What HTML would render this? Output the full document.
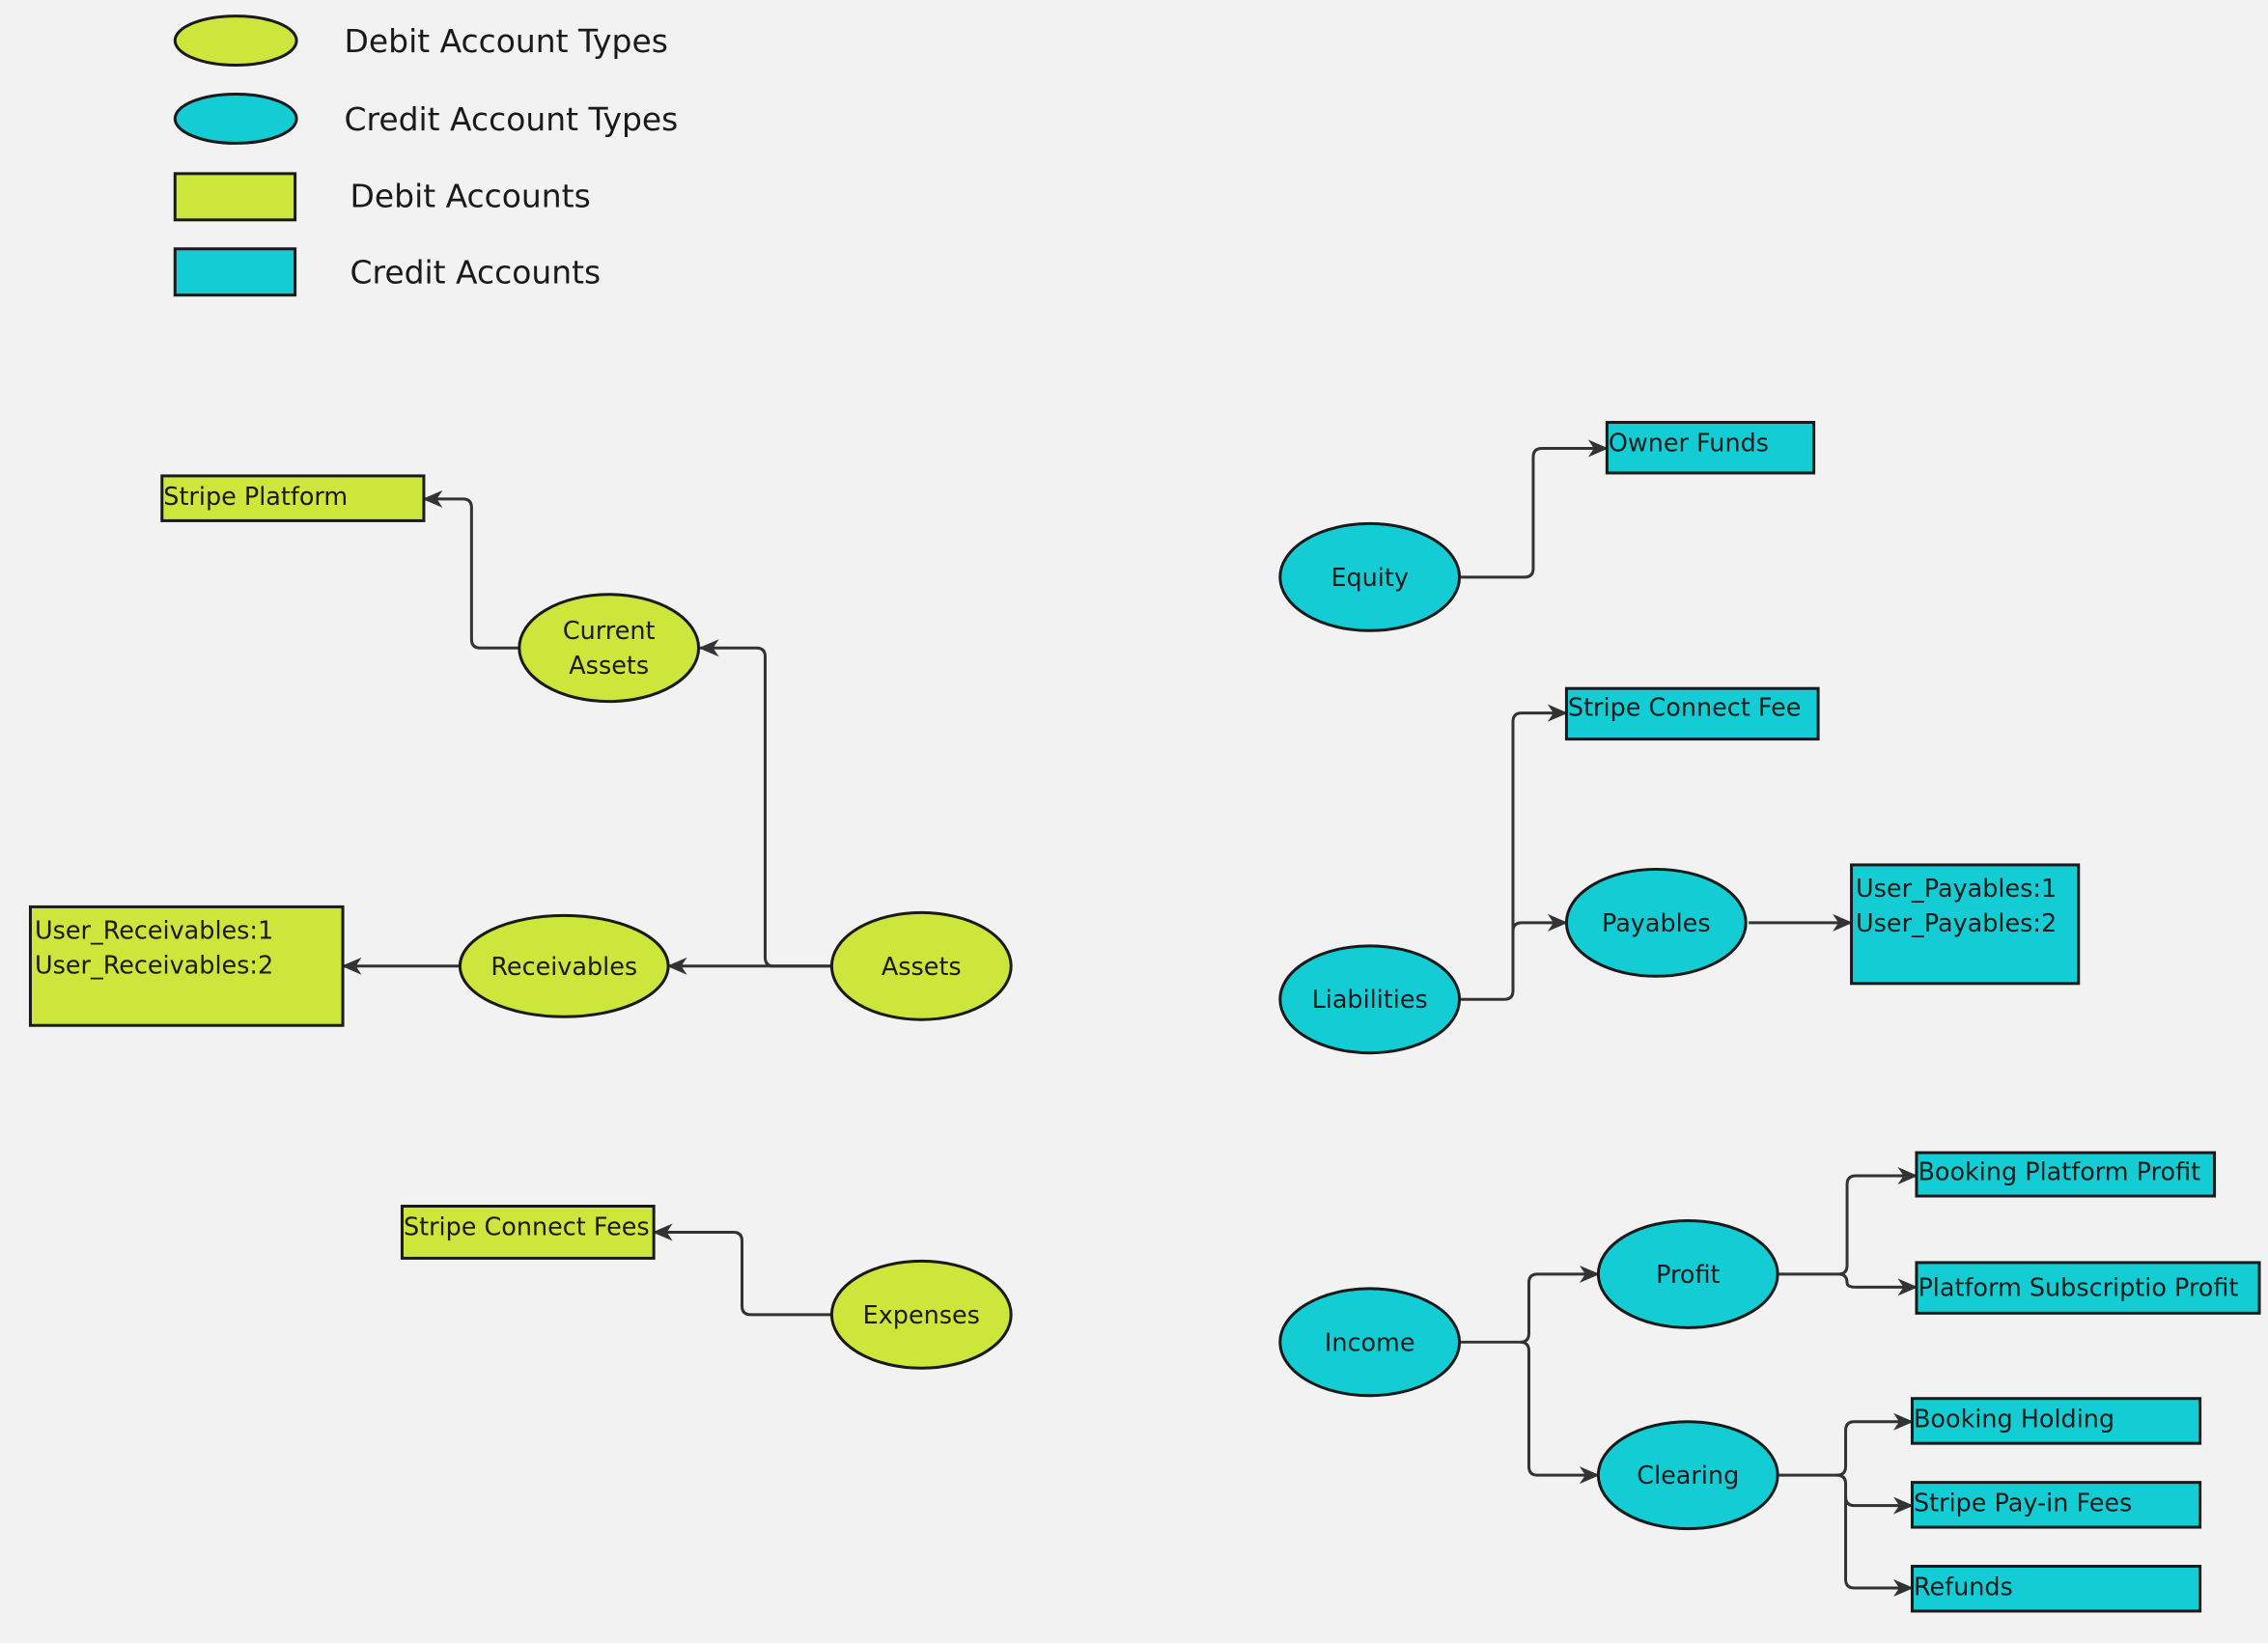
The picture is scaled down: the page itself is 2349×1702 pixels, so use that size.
<!DOCTYPE html>
<html><head><style>html,body{margin:0;padding:0;background:#f2f2f2}svg{display:block}text{font-family:"DejaVu Sans","Liberation Sans",sans-serif;fill:#1a1a1a}</style></head>
<body>
<svg width="2349" height="1702" viewBox="0 0 1568 1136" xmlns="http://www.w3.org/2000/svg">
<defs><marker id="a" markerWidth="14" markerHeight="14" refX="13" refY="7" orient="auto" markerUnits="userSpaceOnUse"><path d="M0,1 L14,7 L0,13 L4,7 Z" fill="#333"/></marker></defs>
<rect width="1568" height="1136" fill="#f2f2f2"/>
<g stroke="#1a1a1a" stroke-width="2">
<ellipse cx="163" cy="28" rx="42" ry="17" fill="#cde63c"/>
<ellipse cx="163" cy="82" rx="42" ry="17" fill="#14cdd4"/>
<rect x="121" y="120" width="83" height="32" fill="#cde63c"/>
<rect x="121" y="172" width="83" height="32" fill="#14cdd4"/>
</g>
<g font-size="22">
<text x="238" y="36">Debit Account Types</text>
<text x="238" y="90">Credit Account Types</text>
<text x="242" y="143">Debit Accounts</text>
<text x="242" y="196">Credit Accounts</text>
</g>
<g fill="none" stroke="#333" stroke-width="2">
<path d="M359,448 H332 Q326,448 326,442 V351 Q326,345 320,345 H293" marker-end="url(#a)"/>
<path d="M575,668 H535 Q529,668 529,662 V454 Q529,448 523,448 H484" marker-end="url(#a)"/>
<path d="M575,668 H462" marker-end="url(#a)"/>
<path d="M318,668 H237" marker-end="url(#a)"/>
<path d="M575,909 H519 Q513,909 513,903 V858 Q513,852 507,852 H452" marker-end="url(#a)"/>
<path d="M1010,399 H1054 Q1060,399 1060,393 V316 Q1060,310 1066,310 H1111" marker-end="url(#a)"/>
<path d="M1010,691 H1040 Q1046,691 1046,685 V499 Q1046,493 1052,493 H1083" marker-end="url(#a)"/>
<path d="M1046,644 Q1046,638 1052,638 H1083" marker-end="url(#a)"/>
<path d="M1209,638 H1280" marker-end="url(#a)"/>
<path d="M1010,928 H1051 Q1057,928 1057,922 V887 Q1057,881 1063,881 H1105" marker-end="url(#a)"/>
<path d="M1051,928 Q1057,928 1057,934 V1014 Q1057,1020 1063,1020 H1105" marker-end="url(#a)"/>
<path d="M1230,881 H1271 Q1277,881 1277,875 V819 Q1277,813 1283,813 H1325" marker-end="url(#a)"/>
<path d="M1271,881 Q1277,881 1277,887 Q1277,890 1283,890 H1325" marker-end="url(#a)"/>
<path d="M1230,1020 H1270 Q1276,1020 1276,1014 V989 Q1276,983 1282,983 H1322" marker-end="url(#a)"/>
<path d="M1270,1020 Q1276,1020 1276,1026 V1035 Q1276,1041 1282,1041 H1322" marker-end="url(#a)"/>
<path d="M1276,1035 V1092 Q1276,1098 1282,1098 H1322" marker-end="url(#a)"/>
</g>
<g stroke="#1a1a1a" stroke-width="2">
<ellipse cx="421" cy="448" rx="62" ry="37" fill="#cde63c"/>
<ellipse cx="390" cy="668" rx="72" ry="35" fill="#cde63c"/>
<ellipse cx="637" cy="668" rx="62" ry="37" fill="#cde63c"/>
<ellipse cx="637" cy="909" rx="62" ry="37" fill="#cde63c"/>
<ellipse cx="947" cy="399" rx="62" ry="37" fill="#14cdd4"/>
<ellipse cx="947" cy="691" rx="62" ry="37" fill="#14cdd4"/>
<ellipse cx="1145" cy="638" rx="62" ry="37" fill="#14cdd4"/>
<ellipse cx="947" cy="928" rx="62" ry="37" fill="#14cdd4"/>
<ellipse cx="1167" cy="881" rx="62" ry="37" fill="#14cdd4"/>
<ellipse cx="1167" cy="1020" rx="62" ry="37" fill="#14cdd4"/>
<rect x="112" y="329" width="181" height="31" fill="#cde63c"/>
<rect x="21" y="627" width="216" height="82" fill="#cde63c"/>
<rect x="278" y="834" width="174" height="36" fill="#cde63c"/>
<rect x="1111" y="292" width="143" height="35" fill="#14cdd4"/>
<rect x="1083" y="476" width="174" height="35" fill="#14cdd4"/>
<rect x="1280" y="598" width="157" height="82" fill="#14cdd4"/>
<rect x="1325" y="797" width="206" height="30" fill="#14cdd4"/>
<rect x="1325" y="873" width="237" height="35" fill="#14cdd4"/>
<rect x="1322" y="967" width="199" height="31" fill="#14cdd4"/>
<rect x="1322" y="1025" width="199" height="31" fill="#14cdd4"/>
<rect x="1322" y="1083" width="199" height="31" fill="#14cdd4"/>
</g>
<g font-size="17" text-anchor="middle">
<text x="421" y="442">Current</text><text x="421" y="466">Assets</text>
<text x="390" y="674">Receivables</text>
<text x="637" y="674">Assets</text>
<text x="637" y="915">Expenses</text>
<text x="947" y="405">Equity</text>
<text x="947" y="697">Liabilities</text>
<text x="1145" y="644">Payables</text>
<text x="947" y="934">Income</text>
<text x="1167" y="887">Profit</text>
<text x="1167" y="1026">Clearing</text>
</g>
<g font-size="17">
<text x="113" y="349">Stripe Platform</text>
<text x="24" y="649">User_Receivables:1</text>
<text x="24" y="673">User_Receivables:2</text>
<text x="279" y="854">Stripe Connect Fees</text>
<text x="1112" y="312">Owner Funds</text>
<text x="1084" y="495">Stripe Connect Fee</text>
<text x="1283" y="620">User_Payables:1</text>
<text x="1283" y="644">User_Payables:2</text>
<text x="1326" y="816">Booking Platform Profit</text>
<text x="1326" y="896">Platform Subscriptio Profit</text>
<text x="1323" y="987">Booking Holding</text>
<text x="1323" y="1045">Stripe Pay-in Fees</text>
<text x="1323" y="1103">Refunds</text>
</g>
</svg>
</body></html>
